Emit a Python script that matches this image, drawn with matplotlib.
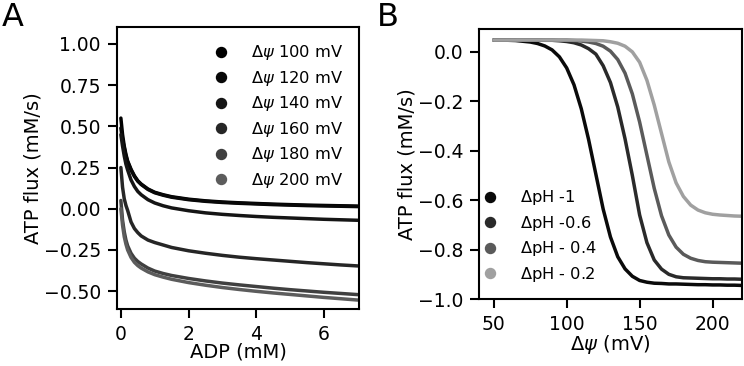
import matplotlib
matplotlib.use('Agg')
import matplotlib.pyplot as plt
from matplotlib.lines import Line2D

# panel A: ATP flux vs ADP for several membrane potentials
adp = [0, 0.05, 0.1, 0.15, 0.2, 0.3, 0.4, 0.5, 0.6, 0.8, 1.0, 1.25, 1.5,
       2, 2.5, 3, 3.5, 4, 4.5, 5, 5.5, 6, 6.5, 7]
flux_100 = [0.55, 0.45, 0.38, 0.33, 0.29, 0.24, 0.20, 0.17, 0.15, 0.12, 0.10, 0.085, 0.073,
            0.058, 0.048, 0.041, 0.036, 0.032, 0.028, 0.025, 0.022, 0.020, 0.018, 0.016]
flux_120 = [0.49, 0.42, 0.37, 0.32, 0.285, 0.235, 0.196, 0.167, 0.147, 0.117, 0.097, 0.082, 0.070,
            0.055, 0.045, 0.038, 0.033, 0.029, 0.025, 0.022, 0.019, 0.017, 0.015, 0.013]
flux_140 = [0.45, 0.38, 0.32, 0.27, 0.235, 0.175, 0.135, 0.105, 0.085, 0.055, 0.035, 0.018, 0.005,
            -0.012, -0.025, -0.034, -0.041, -0.047, -0.052, -0.056, -0.060, -0.064, -0.067, -0.070]
flux_160 = [0.25, 0.13, 0.06, 0.02, -0.01, -0.08, -0.12, -0.145, -0.165, -0.19, -0.205, -0.22, -0.235,
            -0.255, -0.27, -0.283, -0.294, -0.303, -0.311, -0.319, -0.327, -0.334, -0.341, -0.347]
flux_180 = [0.05, -0.07, -0.14, -0.19, -0.225, -0.27, -0.30, -0.32, -0.335, -0.36, -0.378, -0.393, -0.405,
            -0.423, -0.438, -0.451, -0.462, -0.472, -0.482, -0.491, -0.499, -0.507, -0.514, -0.521]
flux_200 = [0.0, -0.10, -0.17, -0.215, -0.25, -0.295, -0.325, -0.345, -0.36, -0.383, -0.40, -0.415, -0.428,
            -0.448, -0.464, -0.478, -0.49, -0.501, -0.511, -0.52, -0.529, -0.538, -0.546, -0.554]
psi_labels = [r'$\Delta\psi$ 100 mV', r'$\Delta\psi$ 120 mV', r'$\Delta\psi$ 140 mV',
              r'$\Delta\psi$ 160 mV', r'$\Delta\psi$ 180 mV', r'$\Delta\psi$ 200 mV']
psi_colors = ['#000000', '#080808', '#151515', '#262626', '#404040', '#5c5c5c']

# panel B: ATP flux vs membrane potential for several pH gradients
psi = [50, 55, 60, 65, 70, 75, 80, 85, 90, 95, 100, 105, 110, 115, 120, 125, 130, 135,
       140, 145, 150, 155, 160, 165, 170, 175, 180, 185, 190, 195, 200, 205, 210, 215, 220]
ph_1 = [0.048, 0.048, 0.047, 0.046, 0.043, 0.040, 0.034, 0.024, 0.008, -0.020, -0.065, -0.133,
        -0.230, -0.354, -0.495, -0.636, -0.749, -0.829, -0.878, -0.908, -0.925, -0.932, -0.936,
        -0.937, -0.939, -0.939, -0.940, -0.941, -0.942, -0.942, -0.943, -0.943, -0.944, -0.944, -0.945]
ph_06 = [0.048, 0.048, 0.048, 0.048, 0.048, 0.048, 0.048, 0.047, 0.047, 0.045, 0.042, 0.037,
         0.028, 0.013, -0.009, -0.056, -0.124, -0.223, -0.352, -0.500, -0.660, -0.772, -0.842,
         -0.879, -0.900, -0.910, -0.914, -0.915, -0.916, -0.917, -0.918, -0.918, -0.919, -0.919, -0.920]
ph_04 = [0.048, 0.048, 0.048, 0.048, 0.048, 0.048, 0.048, 0.048, 0.048, 0.048, 0.048, 0.046,
         0.044, 0.040, 0.034, 0.023, 0.003, -0.031, -0.086, -0.170, -0.284, -0.418, -0.552,
         -0.663, -0.741, -0.790, -0.819, -0.835, -0.844, -0.849, -0.851, -0.852, -0.853, -0.854, -0.855]
ph_02 = [0.048, 0.048, 0.048, 0.048, 0.048, 0.048, 0.048, 0.048, 0.048, 0.048, 0.048, 0.048,
         0.048, 0.047, 0.046, 0.045, 0.041, 0.035, 0.023, 0.000, -0.042, -0.115, -0.215,
         -0.330, -0.445, -0.530, -0.585, -0.620, -0.640, -0.651, -0.657, -0.660, -0.662, -0.664, -0.665]
ph_labels = [r'$\Delta$pH -1', r'$\Delta$pH -0.6', r'$\Delta$pH - 0.4', r'$\Delta$pH - 0.2']
ph_colors = ['#0a0a0a', '#2a2a2a', '#5a5a5a', '#a0a0a0']

plt.rcParams['font.family'] = 'DejaVu Sans'
plt.rcParams['axes.linewidth'] = 1.5

fig = plt.figure(figsize=(7.44, 3.66), dpi=100)
ax_a = fig.add_axes([0.157, 0.155, 0.326, 0.770])
ax_b = fig.add_axes([0.644, 0.183, 0.353, 0.738])

leg_kw = dict(frameon=False, fontsize=11.7, handlelength=0.6, handletextpad=1.55,
              labelspacing=0.40, borderpad=0.2, borderaxespad=0.0)

for ys, c in zip([flux_100, flux_120, flux_140, flux_160, flux_180, flux_200], psi_colors):
    ax_a.plot(adp, ys, color=c, lw=2.5, solid_capstyle='round')
ax_a.set_xlim(-0.12, 7.05)
ax_a.set_ylim(-0.61, 1.1)
ax_a.set_yticks([1.0, 0.75, 0.5, 0.25, 0.0, -0.25, -0.5])
ax_a.set_xticks([0, 2, 4, 6])
ax_a.set_xlabel('ADP (mM)', fontsize=14, labelpad=-1)
ax_a.set_ylabel('ATP flux (mM/s)', fontsize=14, labelpad=1)
handles_a = [Line2D([], [], ls='none', marker='o', ms=7.2, color=c) for c in psi_colors]
ax_a.legend(handles_a, psi_labels, loc='upper left', bbox_to_anchor=(0.397, 0.955), **leg_kw)

for ys, c in zip([ph_1, ph_06, ph_04, ph_02], ph_colors):
    ax_b.plot(psi, ys, color=c, lw=2.5, solid_capstyle='round')
ax_b.set_xlim(40, 220)
ax_b.set_ylim(-1.0, 0.093)
ax_b.set_yticks([0.0, -0.2, -0.4, -0.6, -0.8, -1.0])
ax_b.set_xticks([50, 100, 150, 200])
ax_b.set_xlabel(r'$\Delta\psi$ (mV)', fontsize=14, labelpad=-1)
ax_b.set_ylabel('ATP flux (mM/s)', fontsize=14, labelpad=1)
handles_b = [Line2D([], [], ls='none', marker='o', ms=7.2, color=c) for c in ph_colors]
ax_b.legend(handles_b, ph_labels, loc='lower left', bbox_to_anchor=(0.01, 0.044), **leg_kw)

for ax in (ax_a, ax_b):
    ax.tick_params(labelsize=13.5, length=6.5, width=1.5, pad=5)

fig.text(0.002, 0.995, 'A', fontsize=23, va='top', ha='left')
fig.text(0.506, 0.995, 'B', fontsize=23, va='top', ha='left')

fig.savefig('out.png', dpi=100)
